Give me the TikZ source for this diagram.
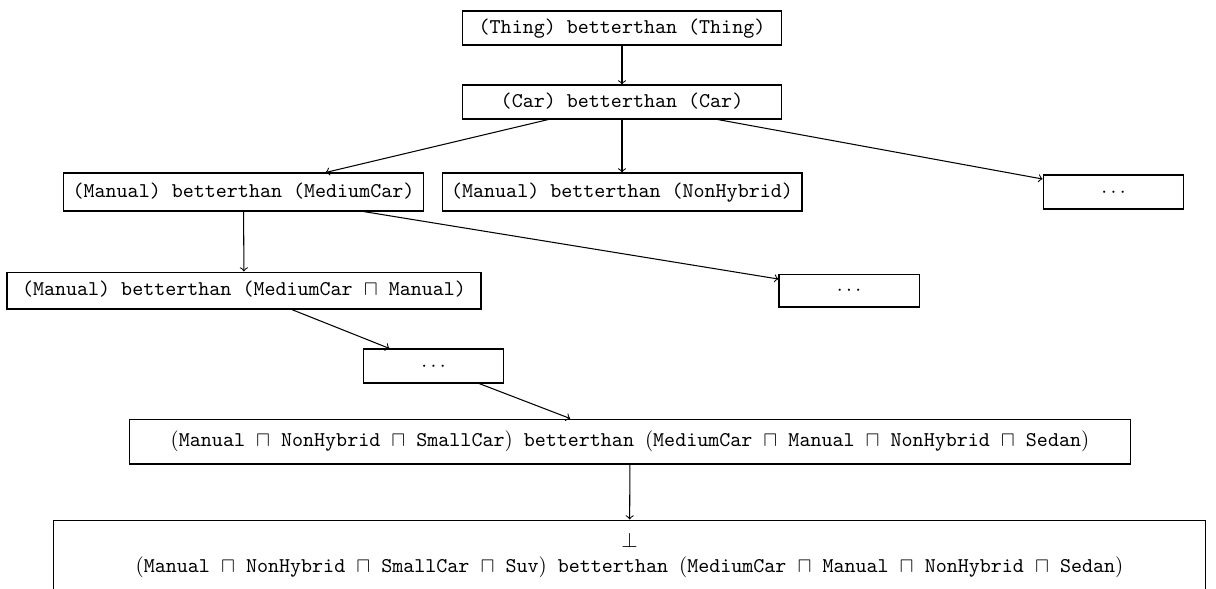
\documentclass[tikz,border=0pt]{standalone}
\usepackage{amssymb}
\begin{document}
\begin{tikzpicture}[
  x={(0.47619pt,0)}, y={(0,-0.47619pt)},
  frame/.style={draw, line width=0.5pt, inner xsep=3pt, inner ysep=0pt, font=\ttfamily},
  oneline/.style={frame, text height=7.5pt, text depth=2.5pt},
  link/.style={->, line width=0.5pt}
]
\useasboundingbox (0,0) rectangle (1216,588);

% upper part of the hierarchy
\node[oneline, minimum width=151.9pt, minimum height=16.2pt] (thing) at (622,28)
  {(Thing) betterthan (Thing)};
\node[oneline, minimum width=151.9pt, minimum height=16.2pt] (car) at (622,102)
  {(Car) betterthan (Car)};

\node[oneline, minimum width=171pt, minimum height=18.1pt] (mm) at (243.5,192)
  {(Manual) betterthan (MediumCar)};
\node[oneline, minimum width=171.4pt, minimum height=18.1pt] (mn) at (622,192)
  {(Manual) betterthan (NonHybrid)};
\node[oneline, minimum width=67.1pt, minimum height=16.2pt] (d1) at (1113.5,192)
  {$\cdots$};

\node[oneline, minimum width=225.7pt, minimum height=17.6pt] (mmm) at (244,290.5)
  {(Manual) betterthan (MediumCar $\sqcap$ Manual)};
\node[oneline, minimum width=66.7pt, minimum height=15.7pt] (d2) at (849,290.5)
  {$\cdots$};

\node[oneline, minimum width=67.1pt, minimum height=16.2pt] (d3) at (433.5,366)
  {$\cdots$};

% lower part of the hierarchy
\node[oneline, minimum width=477pt, minimum height=21.4pt] (big) at (630,441.5)
  {$($Manual $\sqcap$ NonHybrid $\sqcap$ SmallCar$)$ betterthan $($MediumCar $\sqcap$ Manual $\sqcap$ NonHybrid $\sqcap$ Sedan$)$};
\node[frame, align=center, minimum width=549pt, minimum height=33.6pt] (bot) at (629.5,555.3)
  {$\bot$\\$($Manual $\sqcap$ NonHybrid $\sqcap$ SmallCar $\sqcap$ Suv$)$ betterthan $($MediumCar $\sqcap$ Manual $\sqcap$ NonHybrid $\sqcap$ Sedan$)$};

% connectors
\draw[link] (thing) -- (car);
\draw[link] (car) -- (mm);
\draw[link] (car) -- (mn);
\draw[link] (car) -- (d1);
\draw[link] (mm) -- (mmm);
\draw[link] (mm) -- (d2);
\draw[link] (mmm) -- (d3);
\draw[link] (d3) -- (big);
\draw[link] (big) -- (bot);
\end{tikzpicture}
\end{document}
